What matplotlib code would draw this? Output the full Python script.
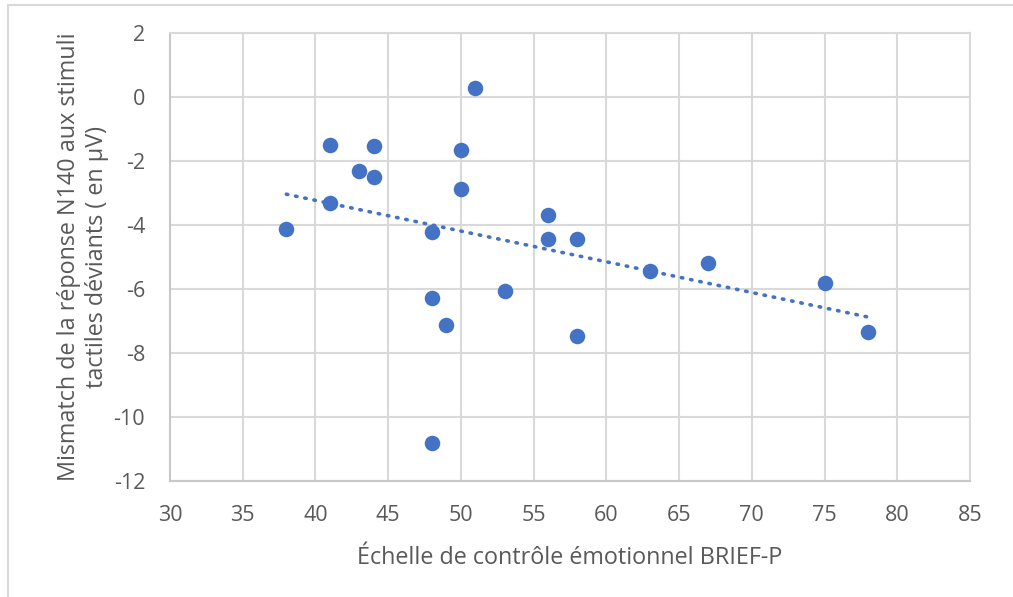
import numpy as np
import matplotlib.pyplot as plt
from matplotlib.patches import Rectangle

plt.rcParams['font.family'] = ['Open Sans', 'DejaVu Sans']
plt.rcParams['axes.unicode_minus'] = False

# BRIEF-P emotional control score vs. N140 mismatch amplitude
brief_p = [38, 41, 41, 43, 44, 44, 48, 48, 48, 49, 50, 50, 51, 53, 56, 56, 58, 58, 63, 67, 75, 78]
mismatch = [-4.12, -1.5, -3.31, -2.31, -1.53, -2.5, -4.22, -6.28, -10.81, -7.12, -1.66, -2.87,
            0.28, -6.06, -3.69, -4.44, -4.44, -7.47, -5.44, -5.19, -5.81, -7.34]

xticks = [30, 35, 40, 45, 50, 55, 60, 65, 70, 75, 80, 85]
yticks = [2, 0, -2, -4, -6, -8, -10, -12]

blue = '#4472C4'
txt = '#595959'
grid = '#d9d9d9'

fig = plt.figure(figsize=(10.13, 5.97), dpi=100)
ax = fig.add_axes([170/1013, 116/597, 800/1013, 448/597])

# chart frame
fig.patches.append(Rectangle((8/1013, -0.1), 1.2, (597-5)/597 + 0.1,
                             transform=fig.transFigure, fill=False,
                             edgecolor=grid, linewidth=1.5))

ax.scatter(brief_p, mismatch, s=125, color=blue, zorder=3, linewidths=0)

# linear trend line
slope, icpt = np.polyfit(brief_p, mismatch, 1)
xs = np.array([min(brief_p), max(brief_p)])
ax.plot(xs, slope * xs + icpt, color=blue, linewidth=2.6,
        linestyle=(0, (0.4, 2.2)), dash_capstyle='round', zorder=2)

ax.set_xlim(30, 85)
ax.set_ylim(-12, 2)
ax.set_xticks(xticks)
ax.set_yticks(yticks)
ax.grid(True, color=grid, linewidth=1.5)
ax.set_axisbelow(True)
for s in ax.spines.values():
    s.set_color(grid)
    s.set_linewidth(1.5)
ax.spines['left'].set_color('#c8c8c8')
ax.spines['bottom'].set_color('#c8c8c8')
ax.tick_params(length=0, labelsize=15.5, colors=txt)
ax.tick_params(axis='y', pad=18)
ax.tick_params(axis='x', pad=17)

ax.set_xlabel('Échelle de contrôle émotionnel BRIEF-P', fontsize=16.8, color=txt, labelpad=15)
ax.set_ylabel('Mismatch de la réponse N140 aux stimuli\ntactiles déviants ( en µV)',
              fontsize=16.8, color=txt, labelpad=3, linespacing=1.25)

fig.savefig('out.png', dpi=100, facecolor='white')
